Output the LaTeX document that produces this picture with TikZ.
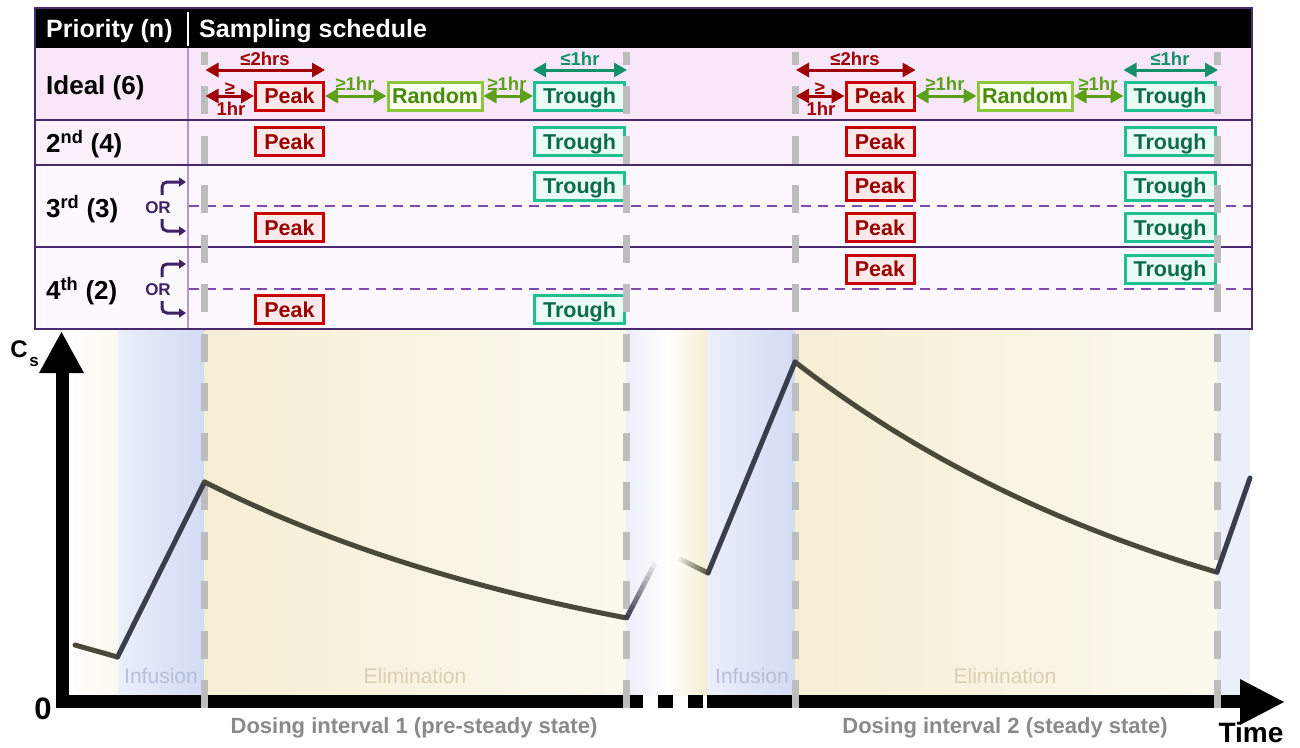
\documentclass[tikz,border=0pt]{standalone}
\usepackage{fontspec}
\setmainfont{Liberation Sans}
\usetikzlibrary{arrows.meta,calc}
\newcommand\myfs[1]{\fontsize{#1}{#1}\selectfont}
\definecolor{frameC}{HTML}{4A2A6E}
\definecolor{idealF}{HTML}{F8E7F8}
\definecolor{secF}{HTML}{FBF0FB}
\definecolor{lowF}{HTML}{FDF8FD}
\definecolor{divC}{HTML}{B794D8}
\definecolor{orDash}{HTML}{7D4BB0}
\definecolor{grayDash}{HTML}{BDBDBD}
\definecolor{peakB}{HTML}{C80000}
\definecolor{peakF}{HTML}{FDE9E9}
\definecolor{peakT}{HTML}{9A0000}
\definecolor{randB}{HTML}{8CC83C}
\definecolor{randF}{HTML}{FBFFF3}
\definecolor{randT}{HTML}{4A8A0A}
\definecolor{trB}{HTML}{1EC090}
\definecolor{trF}{HTML}{EAFBF5}
\definecolor{trT}{HTML}{0B6B4B}
\definecolor{redA}{HTML}{A00000}
\definecolor{greenA}{HTML}{5AA018}
\definecolor{tealA}{HTML}{14906A}
\definecolor{orC}{HTML}{3E2266}
\definecolor{blueD}{HTML}{D3DBF3}
\definecolor{blueL}{HTML}{EBEFFA}
\definecolor{creamD}{HTML}{F6EED4}
\definecolor{creamL}{HTML}{FBF8EE}
\definecolor{decayC}{HTML}{4A4939}
\definecolor{riseC}{HTML}{3A3D4B}
\definecolor{infT}{HTML}{B7BFDB}
\definecolor{elimT}{HTML}{D8D0B0}
\definecolor{doseT}{HTML}{8A8A8A}
\tikzset{
  box/.style={draw, line width=3pt, minimum height=28pt, inner sep=0pt, text height=15.4pt, text depth=0pt, font=\bfseries\myfs{21.5}},
  peak/.style={box, draw=peakB, fill=peakF, text=peakT, minimum width=68pt},
  rand/.style={box, draw=randB, fill=randF, text=randT, minimum width=94pt},
  trough/.style={box, draw=trB, fill=trF, text=trT, minimum width=90pt},
  rowlab/.style={anchor=west, inner sep=0pt, text height=18.6pt, text depth=0pt, font=\bfseries\myfs{26}},
  headlab/.style={anchor=west, inner sep=0pt, text height=17.9pt, text depth=0pt, text=white, font=\bfseries\myfs{25}},
  lbl/.style={inner sep=0pt, text height=13.3pt, text depth=0pt, font=\bfseries\myfs{18.5}},
  dbl/.style={line width=3pt, {Triangle[length=13pt,width=14pt]}-{Triangle[length=13pt,width=14pt]}},
  ortxt/.style={inner sep=0pt, text height=12.2pt, text depth=0pt, text=orC, font=\bfseries\myfs{17}},
  orarr/.style={orC, line width=3pt, rounded corners=5pt, -{Triangle[length=7pt,width=9pt]}},
  rowsep/.style={frameC, line width=2.5pt},
  ordash/.style={orDash, line width=2.5pt, dash pattern=on 10pt off 7pt},
  gdash/.style={grayDash, line width=7pt, dash pattern=on 28pt off 21.5pt},
  curveD/.style={decayC, line width=5pt, line cap=round, line join=round},
  curveR/.style={riseC, line width=5pt, line cap=round, line join=round},
  axis/.style={black, line width=13pt},
  phase/.style={inner sep=0pt, text height=15pt, text depth=0pt, font=\myfs{21}},
  dose/.style={inner sep=0pt, text height=15.8pt, text depth=0pt, text=doseT, font=\bfseries\myfs{22}}
}
\begin{document}
\begin{tikzpicture}[x=1pt,y=-1pt]
\useasboundingbox (0,0) rectangle (1300,747);
\fill[white] (0,0) rectangle (1300,747);
% ---------- plot background ----------
\fill[left color=white, right color=creamL] (62,330) rectangle (118,695);
\fill[left color=blueL, right color=blueD] (118,330) rectangle (204.5,695);
\fill[left color=creamD, right color=creamL] (204.5,330) rectangle (626,695);
\fill[left color=blueL, right color=white] (626,330) rectangle (668,695);
\fill[left color=white, right color=creamD] (668,330) rectangle (707,695);
\fill[left color=blueL, right color=blueD] (707,330) rectangle (795,695);
\fill[left color=creamD, right color=creamL] (795,330) rectangle (1217,695);
\fill[blueL] (1217,330) rectangle (1250,695);
\node[phase, text=infT] (inf1) at (161,676) {Infusion};
\node[phase, text=elimT] (elim1) at (415,676) {Elimination};
\node[phase, text=infT] (inf2) at (752,676) {Infusion};
\node[phase, text=elimT] (elim2) at (1005,676) {Elimination};
% ---------- axes ----------
\coordinate (O) at (62,701.5);
\draw[axis] (62,708) -- (62,372);
\fill (39,373) -- (84,373) -- (61.5,332) -- cycle;
\draw[axis] (55.5,701.5) -- (627,701.5);
\draw[axis] (630,701.5) -- (643,701.5);
\draw[axis] (658,701.5) -- (673,701.5);
\draw[axis] (688,701.5) -- (703,701.5);
\draw[axis] (707,701.5) -- (1242,701.5);
\fill (1240,679) -- (1240,725) -- (1284,702) -- cycle;
\node[inner sep=0pt, text height=17.2pt, text depth=0pt, font=\bfseries\myfs{24}] (cs) at (19,348.5) {C};
\node[inner sep=0pt, text height=9pt, text depth=0pt, font=\bfseries\myfs{17}] (cssub) at (34,362) {s};
\node[inner sep=0pt, text height=22.2pt, text depth=0pt, font=\bfseries\myfs{31}] (zero) at (43,708.5) {0};
\node[inner sep=0pt, text height=20pt, text depth=0pt, font=\bfseries\myfs{28}] (time) at (1251,732) {Time};
\node[dose] (d1) at (414,726) {Dosing interval 1 (pre-steady state)};
\node[dose] (d2) at (1005,726) {Dosing interval 2 (steady state)};
% ---------- table ----------
\fill[idealF] (35,48) rectangle (1252,120);
\fill[secF] (35,120) rectangle (1252,165);
\fill[lowF] (35,165) rectangle (1252,329);
\draw[divC, line width=1.5pt] (188,48) -- (188,329);
\draw[ordash] (189,206) -- (1252,206);
\draw[ordash] (189,289) -- (1252,289);
\draw[rowsep] (35,120) -- (1252,120);
\draw[rowsep] (35,165) -- (1252,165);
\draw[rowsep] (35,247) -- (1252,247);
\fill[black] (35,8) rectangle (1252,48);
\draw[white, line width=2pt] (188,12) -- (188,46);
\draw[frameC, line width=2.5pt] (35,8) rectangle (1252,329);
\node[headlab] (hp) at (46,28.5) {Priority (n)};
\node[headlab] (hs) at (199,28.5) {Sampling schedule};
\node[rowlab] (r1) at (46,85) {Ideal (6)};
\node[rowlab] (r2) at (46,143) {2\textsuperscript{nd} (4)};
\node[rowlab] (r3) at (46,208) {3\textsuperscript{rd} (3)};
\node[rowlab] (r4) at (46,290) {4\textsuperscript{th} (2)};
% OR brackets
\node[ortxt] (or3) at (158,207) {OR};
\node[ortxt] (or4) at (158,289.5) {OR};
\coordinate (or3a) at (162,195); \coordinate (or3b) at (186,182);
\coordinate (or3c) at (162,219); \coordinate (or3d) at (186,231);
\coordinate (or4a) at (162,277); \coordinate (or4b) at (186,264);
\coordinate (or4c) at (162,301); \coordinate (or4d) at (186,313);
\draw[orarr] (or3a) |- (or3b);
\draw[orarr] (or3c) |- (or3d);
\draw[orarr] (or4a) |- (or4b);
\draw[orarr] (or4c) |- (or4d);
% boxes: ideal
\node[peak] (pA) at (289.5,96) {Peak};
\node[rand] (rA) at (435,96) {Random};
\node[trough] (tA) at (579.5,96) {Trough};
\node[peak] (pB) at (880,96) {Peak};
\node[rand] (rB) at (1025,96) {Random};
\node[trough] (tB) at (1170,96) {Trough};
% 2nd
\node[peak] (p2A) at (289.5,141.5) {Peak};
\node[trough] (t2A) at (579.5,141.5) {Trough};
\node[peak] (p2B) at (880,141.5) {Peak};
\node[trough] (t2B) at (1170,141.5) {Trough};
% 3rd
\node[trough] (t3A) at (579.5,186) {Trough};
\node[peak] (p3A) at (289.5,227.5) {Peak};
\node[peak] (p3B) at (880,186) {Peak};
\node[trough] (t3B) at (1170,186) {Trough};
\node[peak] (p3Bb) at (880,227.5) {Peak};
\node[trough] (t3Bb) at (1170,227.5) {Trough};
% 4th
\node[peak] (p4B) at (880,269) {Peak};
\node[trough] (t4B) at (1170,269) {Trough};
\node[peak] (p4A) at (289.5,309.5) {Peak};
\node[trough] (t4A) at (579.5,309.5) {Trough};
% ---------- gray dashed markers ----------
\begin{scope}
\clip (0,52) rectangle (1300,708);
\foreach \gx in {204.5,626,795,1217} \draw[gdash] (\gx,36.5) -- (\gx,720);
\end{scope}
% ---------- ideal-row arrows ----------
\foreach \s/\P/\R/\T/\gs/\ge in {A/pA/rA/tA/204.5/626, B/pB/rB/tB/795/1217}{
  \coordinate (L\s) at (\gs+1,70);
  \coordinate (M\s) at (\gs+1,96);
  \coordinate (E\s) at (\ge+1,70);
  \draw[dbl, redA] (L\s) -- (L\s -| \P.east);
  \draw[dbl, redA] (M\s) -- (\P.west);
  \draw[dbl, greenA] (\P.east) -- (\R.west);
  \draw[dbl, greenA] (\R.east) -- (\T.west);
  \draw[dbl, tealA] (E\s -| \T.west) -- (E\s);
}
\node[lbl, text=redA] at (265,59) {≤2hrs};
\node[lbl, text=redA] at (230,88) {≥};
\node[lbl, text=redA] at (231,109) {1hr};
\node[lbl, text=greenA] at (355,84) {≥1hr};
\node[lbl, text=greenA] at (507,84) {≥1hr};
\node[lbl, text=tealA] at (580,59) {≤1hr};
\node[lbl, text=redA] at (855,59) {≤2hrs};
\node[lbl, text=redA] at (820,88) {≥};
\node[lbl, text=redA] at (821,109) {1hr};
\node[lbl, text=greenA] at (945,84) {≥1hr};
\node[lbl, text=greenA] at (1098,84) {≥1hr};
\node[lbl, text=tealA] at (1170,59) {≤1hr};
% ---------- concentration curve ----------
\coordinate (c0) at (75,645);
\coordinate (c1) at (117.5,657);
\coordinate (pk1) at (204.5,482);
\coordinate (tr1) at (626,619);
\coordinate (fa1) at (655,563);
\coordinate (fb1) at (676,557);
\coordinate (tr0) at (708,573);
\coordinate (pk2) at (795,362);
\coordinate (tr2) at (1217,572);
\coordinate (c9) at (1250,478);
\draw[curveD] (c0) -- (c1);
\draw[curveR] (c1) -- (pk1);
\draw[curveD] plot[domain=204.5:626, samples=50] (\x, {701.5-219.5*exp(-0.002285*(\x-204.5))});
\draw[curveD] plot[domain=795:1217, samples=50] (\x, {701.5-339.5*exp(-0.002285*(\x-795))});
\draw[curveR] (tr0) -- (pk2);
\draw[curveR] (tr2) -- (c9);
\foreach \i in {0,...,11}{
  \pgfmathsetmacro\op{1-\i/12}
  \draw[riseC, line width=5pt, opacity=\op] ($(tr1)!{\i/12}!(fa1)$) -- ($(tr1)!{(\i+1)/12}!(fa1)$);
  \pgfmathsetmacro\oq{\i/12}
  \draw[decayC, line width=5pt, opacity=\oq] ($(fb1)!{\i/12}!(tr0)$) -- ($(fb1)!{(\i+1)/12}!(tr0)$);
}
\end{tikzpicture}
\end{document}
